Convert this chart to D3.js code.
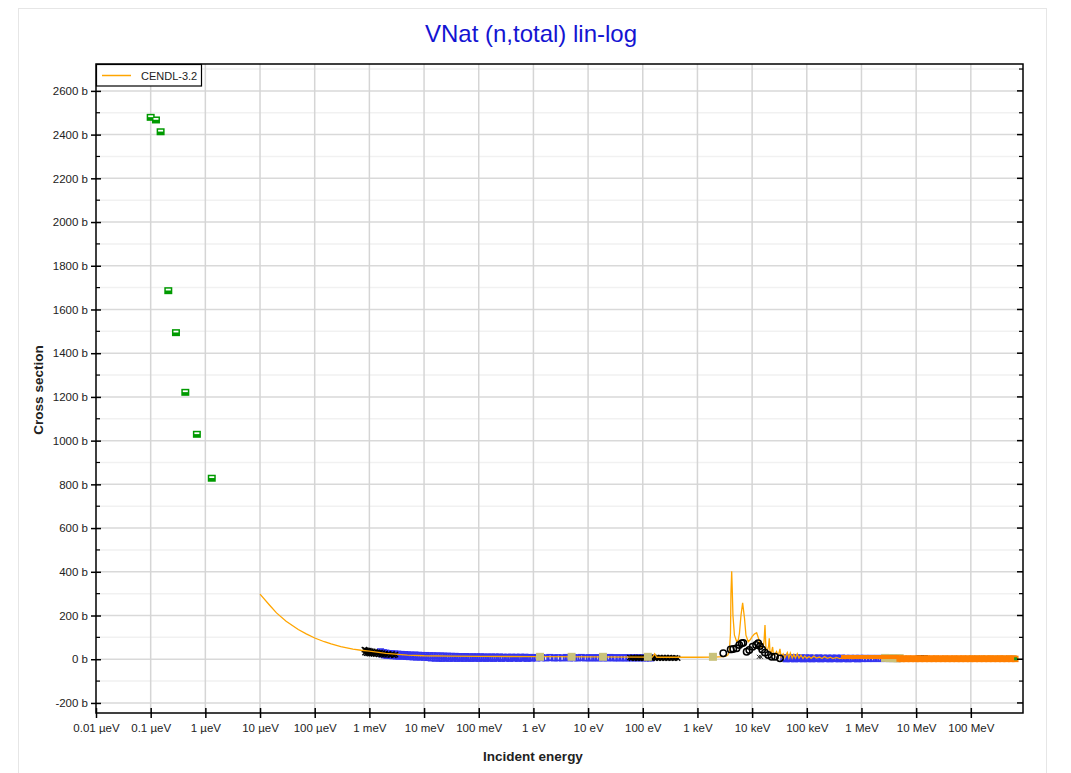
<!DOCTYPE html>
<html><head><meta charset="utf-8">
<script src="https://cdn.jsdelivr.net/npm/d3@7"></script>
<style>
body{margin:0;background:#fff;}
text{font-family:"Liberation Sans",Arial,Helvetica,sans-serif;}
</style>
</head><body>
<svg id="chart" width="1071" height="773"></svg>
<script>
// ---------- data (energy in eV, cross section in b) ----------
const xTickValues = [1e-8,1e-7,1e-6,1e-5,1e-4,1e-3,1e-2,1e-1,1,10,100,1e3,1e4,1e5,1e6,1e7,1e8];
const xTickLabels = ["0.01 µeV","0.1 µeV","1 µeV","10 µeV","100 µeV","1 meV","10 meV","100 meV","1 eV","10 eV","100 eV","1 keV","10 keV","100 keV","1 MeV","10 MeV","100 MeV"];
const yTickValues = [-200,0,200,400,600,800,1000,1200,1400,1600,1800,2000,2200,2400,2600];
const yMinorValues = [-100,100,300,500,700,900,1100,1300,1500,1700,1900,2100,2300,2500,2700];

const cendl = [
 [1e-5,298],[1.5e-5,247],[2e-5,212],[3e-5,174],[5e-5,136],[7e-5,116],[1e-4,97],[1.5e-4,80],[2e-4,70],[3e-4,58],
 [5e-4,46],[7e-4,41],[1e-3,37],[2e-3,27],[5e-3,19],[1e-2,16],[3e-2,14],[0.1,13],[1,12],[10,11],[100,10],
 [150,10],[165,25],[180,9],[1000,9],[2000,10],[3000,12],[3400,15],[3610,20],[3850,40],[4020,120],[4100,300],
 [4230,402],[4330,320],[4460,200],[4750,110],[5220,80],[5600,90],[5870,120],[6250,200],[6710,258],[7240,190],
 [7710,110],[8490,80],[9300,90],[9930,102],[11000,115],[12100,121],[13300,90],[14900,51],[16000,60],[16500,80],
 [17200,156],[17900,50],[19100,40],[20000,60],[20600,96],[21200,35],[22100,30],[23000,40],[23700,56],[24500,22],
 [25600,18],[28000,35],[30000,12],[32300,47],[34000,10],[37000,25],[40000,8],[44000,30],[47000,6],[50000,28],
 [54000,5],[58000,22],[62000,6],[67000,25],[72000,5],[78000,18],[85000,4],[92000,15],[1e5,5],[1.1e5,12],
 [1.2e5,4],[1.35e5,14],[1.5e5,5],[1.7e5,10],[1.9e5,3],[2.1e5,12],[2.4e5,4],[2.7e5,9],[3e5,3],[3.5e5,8],
 [4e5,3],[4.5e5,7],[5e5,3],[6e5,6],[7e5,3],[8e5,5],[1e6,4],[2e6,3.5],[5e6,3],[1e7,3],[2e7,2.5]
];

const greenPts = [[1.0e-7,2479],[1.25e-7,2467],[1.52e-7,2413],[2.1e-7,1686],[2.9e-7,1494],[4.3e-7,1221],[7.0e-7,1029],[1.31e-6,828]];

const blueLow = [
 [1.6e-3,34],[1.7e-3,24],[1.8e-3,30],[1.9e-3,20],[2.0e-3,28],[2.1e-3,18],[2.25e-3,26],[2.4e-3,17],[2.55e-3,25],[2.7e-3,16],
 [2.9e-3,24],[3.1e-3,15],[3.3e-3,23],[3.5e-3,14],[3.8e-3,22],[4.1e-3,14],[4.4e-3,21],[4.7e-3,13],[5.0e-3,20],[5.4e-3,12],
 [5.8e-3,19],[6.3e-3,11],[6.8e-3,19],[7.3e-3,10],[7.9e-3,18],[8.5e-3,10],[9.2e-3,17],[1e-2,9],[1.08e-2,17],[1.17e-2,8],
 [1.26e-2,16],[1.36e-2,6],[1.47e-2,16],[1.6e-2,5],[1.72e-2,15],[1.86e-2,5],[2.0e-2,15],[2.15e-2,4],[2.3e-2,14],[2.5e-2,6],
 [2.7e-2,14],[2.9e-2,4],[3.15e-2,13],[3.4e-2,5],[3.7e-2,13],[4.0e-2,4],[4.3e-2,12],[4.6e-2,5],[5.0e-2,12],[5.4e-2,4],
 [5.8e-2,12],[6.3e-2,5],[6.8e-2,11],[7.3e-2,4],[7.9e-2,11],[8.5e-2,5],[9.2e-2,11],[0.1,4],[0.108,11],[0.117,5],
 [0.126,10],[0.136,4],[0.147,10],[0.16,5],[0.172,10],[0.186,4],[0.2,10],[0.22,5],[0.24,10],[0.26,4],
 [0.28,9],[0.31,5],[0.34,9],[0.37,4],[0.4,9],[0.44,5],[0.48,9],[0.53,4],[0.58,9],[0.64,5],
 [0.7,9],[0.77,4],[0.85,8],[0.93,5],[1.0,8],[1.15,6],[1.4,7],[1.7,6],[2.0,8],[2.4,6],
 [2.8,7],[3.4,6],[4.0,8],[4.6,6],[5.5,7],[6.5,6],[7.5,8],[9,6],[10.5,7],[12,6],
 [14,7],[16,6],[19,7],[22,6],[25,8],[29,6],[33,7],[38,6],[44,7],[50,6],
 [57,7],[65,6],[75,7],[85,6],[97,7],[110,6],[125,7],[140,6]
];

const blueHigh = [
 [3.8e4,7],[4.2e4,2],[4.6e4,6],[5.0e4,3],[5.5e4,7],[6.0e4,2],[6.6e4,6],[7.2e4,3],[7.9e4,6],[8.6e4,2],
 [9.4e4,6],[1.03e5,3],[1.13e5,6],[1.24e5,2],[1.36e5,5],[1.5e5,3],[1.65e5,6],[1.8e5,2],[2.0e5,5],[2.2e5,3],
 [2.4e5,5],[2.65e5,2],[2.9e5,5],[3.2e5,3],[3.5e5,5],[3.9e5,2],[4.3e5,5],[4.7e5,3],[5.2e5,4],[5.7e5,2],
 [6.3e5,4],[7.0e5,3],[7.7e5,4],[8.5e5,2],[9.3e5,4],[1.03e6,3],[1.15e6,4],[1.3e6,3],[1.5e6,4],[1.7e6,3],
 [2.0e6,4],[2.3e6,3],[2.7e6,4],[3.2e6,3],[3.8e6,4],[4.5e6,3]
];

const blackLow = [
 [8.1e-4,44],[8.3e-4,30],[8.6e-4,42],[8.9e-4,28],[9.2e-4,40],[9.5e-4,27],[9.8e-4,39],[1.02e-3,26],[1.06e-3,37],[1.1e-3,25],
 [1.15e-3,36],[1.2e-3,24],[1.26e-3,34],[1.32e-3,23],[1.4e-3,32],[1.48e-3,22],[1.56e-3,30],[1.65e-3,21],[1.75e-3,28],[1.85e-3,20],
 [1.95e-3,27],[2.1e-3,20],[2.25e-3,25],[2.4e-3,19],[2.6e-3,23],[2.8e-3,18],[3.0e-3,21]
];

const blackMid = [
 [58,8],[62,4],[66,9],[70,5],[75,8],[80,4],[85,9],[90,5],[96,8],[102,4],[109,8],[116,5],[124,9],[132,4],[140,8],
 [150,5],[160,9],[170,4],[182,8],[195,5],[208,8],[222,4],[237,8],[253,5],[270,8],[288,4],[307,8],[328,5],[350,7],
 [375,4],[400,7],[437,5]
];

const blackHigh = [[1.15e7,14],[1.3e7,14],[1.45e7,14]];

const blackCircles = [
 [2.97e3,27],[4.05e3,45],[4.52e3,47],[5.21e3,50],[5.82e3,65],[6.44e3,73],[6.89e3,75],[7.94e3,34],[8.87e3,42],[1.02e4,57],
 [1.18e4,65],[1.29e4,73],[1.39e4,60],[1.53e4,45],[1.72e4,30],[1.97e4,19],[2.28e4,11],[2.62e4,11],[3.23e4,4]
];

const blackCrosses = [[1.33e4,11],[1.45e4,11]];

const khakiPts = [[1.32,11],[5.0,11],[18.7,11],[124,11],[1.92e3,11],[2.7e6,6],[3.2e6,5],[3.8e6,5],[4.4e6,4],[5.0e6,5]];

const orangeThin = [[4.6e5,10],[5.2e5,10],[5.8e5,10],[6.5e5,10],[7.1e5,10],[7.7e5,10],[8.4e5,10],[9e5,10],[1.0e6,10],[1.07e6,10],[1.17e6,10],[1.26e6,10],[1.38e6,10],[1.5e6,10],[1.63e6,10],[1.77e6,10],[1.93e6,10],[2.1e6,10],[2.3e6,10],[2.5e6,10],[2.7e6,10],[2.95e6,10],[3.2e6,10],[3.5e6,10],[3.8e6,10],[4.1e6,10],[4.5e6,10]];

const orangeBand = [
 [5e6,3],[5.5e6,1.5],[6e6,2.5],[6.6e6,1.5],[7.2e6,3],[8e6,1.5],[8.8e6,2.5],[9.7e6,1.5],[1.07e7,3],[1.18e7,1.5],
 [1.3e7,2.5],[1.43e7,1.5],[1.58e7,3],[1.74e7,1.5],[1.92e7,2.5],[2.1e7,1.5],[2.3e7,3],[2.55e7,1.5],[2.8e7,2.5],[3.1e7,1.5],
 [3.4e7,3],[3.75e7,1.5],[4.1e7,2.5],[4.5e7,1.5],[5e7,3],[5.5e7,1.5],[6e7,2.5],[6.6e7,1.5],[7.3e7,3],[8e7,1.5],
 [8.8e7,2.5],[9.7e7,1.5],[1.07e8,3],[1.18e8,1.5],[1.3e8,2.5],[1.43e8,1.5],[1.58e8,3],[1.74e8,1.5],[1.92e8,2.5],[2.1e8,1.5],
 [2.3e8,3],[2.55e8,1.5],[2.8e8,2.5],[3.1e8,1.5],[3.4e8,3],[3.75e8,1.5],[4.1e8,2.5],[4.5e8,1.5],[5e8,3],[5.5e8,1.5],
 [6e8,2.5],[6.5e8,1.5]
];

const paleGreen = [[1.0e8,6],[1.3e8,6],[1.7e8,6],[2.2e8,6],[2.9e8,6],[3.7e8,6],[4.8e8,6],[6.2e8,6]];
const darkGreenEnd = [[6.6e8,2]];

// ---------- layout ----------
const L = 96, R = 1023, T = 64, B = 713;
const svg = d3.select("#chart");
const x = d3.scaleLog().domain([1e-8, 9e8]).range([L, R]);
const y = d3.scaleLinear().domain([-246, 2723]).range([B, T]);

// outer frame
svg.append("rect").attr("x",18.5).attr("y",8.5).attr("width",1028).attr("height",790)
  .attr("fill","none").attr("stroke","#e6e6e6").attr("stroke-width",1);

// title
svg.append("text").attr("x",531).attr("y",42).attr("text-anchor","middle")
  .attr("font-size",24).attr("fill","#1414d2").text("VNat (n,total) lin-log");

// grid
const grid = svg.append("g");
grid.selectAll(".hmin").data(yMinorValues.filter(v=>v<2723)).enter().append("line")
  .attr("x1",L).attr("x2",R).attr("y1",d=>y(d)).attr("y2",d=>y(d))
  .attr("stroke","#f1f1f1").attr("stroke-width",1.5);
grid.selectAll(".hmaj").data(yTickValues).enter().append("line")
  .attr("x1",L).attr("x2",R).attr("y1",d=>y(d)).attr("y2",d=>y(d))
  .attr("stroke","#d9d9d9").attr("stroke-width",1.5);
grid.selectAll(".vmaj").data(xTickValues.slice(1)).enter().append("line")
  .attr("x1",d=>x(d)).attr("x2",d=>x(d)).attr("y1",T).attr("y2",B)
  .attr("stroke","#d5d5d5").attr("stroke-width",1.5);

// clip
svg.append("clipPath").attr("id","clip").append("rect")
  .attr("x",L).attr("y",T).attr("width",R-L).attr("height",B-T);
const plot = svg.append("g").attr("clip-path","url(#clip)");

function squares(data, size, fill, stroke, sw){
  plot.append("g").selectAll("rect").data(data).enter().append("rect")
    .attr("x",d=>x(d[0])-size/2).attr("y",d=>y(d[1])-size/2)
    .attr("width",size).attr("height",size)
    .attr("fill",fill).attr("stroke",stroke).attr("stroke-width",sw);
}
function crosses(data, s, color, sw){
  const g = plot.append("g").attr("stroke",color).attr("stroke-width",sw);
  data.forEach(d=>{
    const cx=x(d[0]), cy=y(d[1]);
    g.append("line").attr("x1",cx-s).attr("x2",cx+s).attr("y1",cy-s).attr("y2",cy+s);
    g.append("line").attr("x1",cx-s).attr("x2",cx+s).attr("y1",cy+s).attr("y2",cy-s);
  });
}

// experimental data under the evaluation
squares(blueLow, 5.5, "none", "#3535f0", 1.6);
squares(blueHigh, 5.5, "none", "#3535f0", 1.6);
crosses(blackLow, 2.6, "#000", 1.4);
crosses(blackMid, 2.5, "#000", 1.4);

// evaluated curve
const line = d3.line().x(d=>x(d[0])).y(d=>y(d[1]));
plot.append("path").datum(cendl).attr("d",line)
  .attr("fill","none").attr("stroke","#ffa500").attr("stroke-width",1.3);

// more experimental data on top
squares(khakiPts, 8, "#c9c27b", "none", 0);
plot.append("g").selectAll("circle").data(blackCircles).enter().append("circle")
  .attr("cx",d=>x(d[0])).attr("cy",d=>y(d[1])).attr("r",3.2)
  .attr("fill","none").attr("stroke","#000").attr("stroke-width",1.5);
crosses(blackCrosses, 2, "#222", 1);
squares(paleGreen, 5, "#b5e3a8", "none", 0);
plot.append("g").selectAll("line").data(blackHigh).enter().append("line")
  .attr("x1",d=>x(d[0])-3).attr("x2",d=>x(d[0])+3).attr("y1",d=>y(d[1])).attr("y2",d=>y(d[1]))
  .attr("stroke","#000").attr("stroke-width",2);
squares(orangeThin, 4, "#ff7f00", "none", 0);
squares(orangeBand, 6.5, "#ff7f00", "none", 0);
squares(darkGreenEnd, 3, "#1a9a1a", "none", 0);

// green low-energy points
const gp = plot.append("g");
gp.selectAll("rect.g").data(greenPts).enter().append("rect")
  .attr("x",d=>x(d[0])-4).attr("y",d=>y(d[1])-3.5).attr("width",8).attr("height",7)
  .attr("fill","#009a00");
gp.selectAll("rect.w").data(greenPts).enter().append("rect")
  .attr("x",d=>x(d[0])-2.5).attr("y",d=>y(d[1])-2).attr("width",5).attr("height",1.8)
  .attr("fill","#ffffff");

// frame
svg.append("rect").attr("x",L).attr("y",T).attr("width",R-L).attr("height",B-T)
  .attr("fill","none").attr("stroke","#000").attr("stroke-width",1.5);

// axes
const yAxis = svg.append("g").attr("transform",`translate(${L},0)`)
  .call(d3.axisLeft(y).tickValues(yTickValues).tickFormat(d=>d+" b").tickSizeInner(5).tickSizeOuter(0).tickPadding(3));
yAxis.select(".domain").remove();
yAxis.selectAll(".tick line").attr("x2",-5).attr("x1",5).attr("stroke-width",1.5);
yAxis.selectAll("text").attr("font-size",11.5).attr("font-family","Liberation Sans, Arial, sans-serif").attr("fill","#222");

// minor ticks left & right, major ticks right
svg.append("g").selectAll("line").data(yMinorValues.filter(v=>v<2723)).enter().append("line")
  .attr("x1",L).attr("x2",L+4).attr("y1",d=>y(d)).attr("y2",d=>y(d)).attr("stroke","#000").attr("stroke-width",1.2);
svg.append("g").selectAll("line").data(yMinorValues.filter(v=>v<2723)).enter().append("line")
  .attr("x1",R-4).attr("x2",R).attr("y1",d=>y(d)).attr("y2",d=>y(d)).attr("stroke","#000").attr("stroke-width",1.2);
svg.append("g").selectAll("line").data(yTickValues).enter().append("line")
  .attr("x1",R-6).attr("x2",R).attr("y1",d=>y(d)).attr("y2",d=>y(d)).attr("stroke","#000").attr("stroke-width",1.5);

const xAxis = svg.append("g").attr("transform",`translate(0,${B})`)
  .call(d3.axisBottom(x).tickValues(xTickValues).tickFormat((d,i)=>xTickLabels[i]).tickSizeInner(5).tickSizeOuter(0).tickPadding(6));
xAxis.select(".domain").remove();
xAxis.selectAll(".tick line").attr("y1",-5).attr("y2",5).attr("stroke-width",1.5);
xAxis.selectAll("text").attr("font-size",11.5).attr("font-family","Liberation Sans, Arial, sans-serif").attr("fill","#222");

// axis titles
svg.append("text").attr("x",533).attr("y",761).attr("text-anchor","middle")
  .attr("font-size",13.5).attr("font-weight","bold").attr("fill","#222").text("Incident energy");
svg.append("text").attr("transform","translate(43,390) rotate(-90)").attr("text-anchor","middle")
  .attr("font-size",13.5).attr("font-weight","bold").attr("fill","#222").text("Cross section");

// legend
const lg = svg.append("g");
lg.append("rect").attr("x",96.5).attr("y",64.5).attr("width",105).attr("height",21.5)
  .attr("fill","#fff").attr("stroke","#000").attr("stroke-width",1.2);
lg.append("line").attr("x1",102).attr("x2",131).attr("y1",75.5).attr("y2",75.5)
  .attr("stroke","#ffa500").attr("stroke-width",1.5);
lg.append("text").attr("x",141).attr("y",79.5).attr("font-size",11).attr("fill","#222").text("CENDL-3.2");
</script>
</body></html>
